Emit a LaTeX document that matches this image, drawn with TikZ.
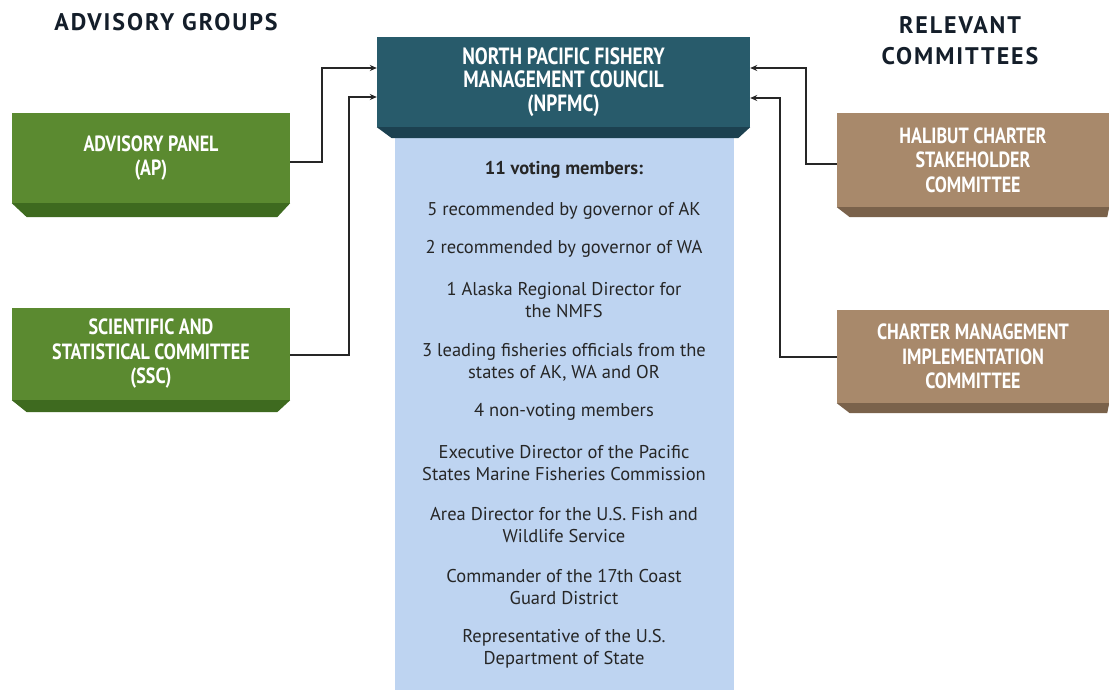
\documentclass[tikz,border=0pt]{standalone}
\usepackage{fontspec}
\setmainfont{PT Sans}
\newfontfamily\condbold[FakeStretch=0.82]{PT Sans Bold}
\newfontfamily\titlefont[LetterSpace=8]{PT Sans Bold}
\usetikzlibrary{calc,arrows.meta}
\definecolor{gface}{HTML}{5B8A30}
\definecolor{gbev}{HTML}{3E6A1F}
\definecolor{tface}{HTML}{285B6B}
\definecolor{tbev}{HTML}{1C4150}
\definecolor{bface}{HTML}{A8896B}
\definecolor{bbev}{HTML}{7A624B}
\definecolor{colblue}{HTML}{BED4F1}
\definecolor{navy}{HTML}{141E2A}
\tikzset{
  x=1pt,y=-1pt,
  face/.style={inner sep=0pt,text=white,align=center,font=\condbold\fontsize{22}{24.5}\selectfont},
  gface/.style={face,fill=gface},
  tface/.style={face,fill=tface},
  bface/.style={face,fill=bface},
  link/.style={draw=black!85,line width=1.3pt,-{Stealth[length=7pt,width=6pt]}},
  coltext/.style={align=center,text=black!85,font=\fontsize{18.5}{22}\selectfont},
  title/.style={text=navy,align=center,font=\titlefont\fontsize{24}{31}\selectfont}
}
\begin{document}
\begin{tikzpicture}
\useasboundingbox (0,0) rectangle (1109,690);
\fill[white] (0,0) rectangle (1109,690);
% blue column
\fill[colblue] (395,130) rectangle (734,690);
% titles
\node[title] (tadv) at (166,22) {ADVISORY GROUPS};
\node[title] (trel) at (960,41) {RELEVANT\\COMMITTEES};
% boxes
\node[tface,minimum width=373pt,minimum height=90pt,font=\condbold\fontsize{23.5}{23.5}\selectfont] (np) at (563.5,82) {NORTH PACIFIC FISHERY\\MANAGEMENT COUNCIL\\(NPFMC)};
\fill[tbev] (np.south west) -- (np.south east) -- ++(-12,11) -- ($(np.south west)+(15,11)$) -- cycle;
\node[gface,minimum width=278pt,minimum height=90pt] (ap) at (151,158) {ADVISORY PANEL\\(AP)};
\fill[gbev] (ap.south west) -- (ap.south east) -- ++(-13,14) -- ($(ap.south west)+(15,14)$) -- cycle;
\node[gface,minimum width=278pt,minimum height=92pt] (ssc) at (151,354) {SCIENTIFIC AND\\STATISTICAL COMMITTEE\\(SSC)};
\fill[gbev] (ssc.south west) -- (ssc.south east) -- ++(-13,12) -- ($(ssc.south west)+(15,12)$) -- cycle;
\node[bface,minimum width=272pt,minimum height=94pt] (hal) at (973,160) {HALIBUT CHARTER\\STAKEHOLDER\\COMMITTEE};
\fill[bbev] (hal.south west) -- (hal.south east) -- ++(-2,10) -- ($(hal.south west)+(13,10)$) -- cycle;
\node[bface,minimum width=272pt,minimum height=93pt] (cmi) at (973,356.5) {CHARTER MANAGEMENT\\IMPLEMENTATION\\COMMITTEE};
\fill[bbev] (cmi.south west) -- (cmi.south east) -- ++(-2,10) -- ($(cmi.south west)+(13,10)$) -- cycle;
% connectors
\coordinate (npl1) at (np.west |- 0,68);
\coordinate (npl2) at (np.west |- 0,97);
\coordinate (npr1) at (np.east |- 0,68);
\coordinate (npr2) at (np.east |- 0,98);
\draw[link] (ap.east |- 0,162) -- (322,162) -- (322,68) -- (npl1);
\draw[link] (ssc.east |- 0,355) -- (349,355) -- (349,97) -- (npl2);
\draw[link] (hal.west |- 0,164) -- (806,164) -- (806,68) -- (npr1);
\draw[link] (cmi.west |- 0,357) -- (780,357) -- (780,98) -- (npr2);
% column text
\node[coltext,font=\bfseries\fontsize{18.5}{22}\selectfont] (vm) at (564,170) {11 voting members:};
\node[coltext] (i1) at (564,211) {5 recommended by governor of AK};
\node[coltext] (i2) at (564,249) {2 recommended by governor of WA};
\node[coltext] (i3) at (564,300) {1 Alaska Regional Director for\\the NMFS};
\node[coltext] (i4) at (564,362) {3 leading fisheries officials from the\\states of AK, WA and OR};
\node[coltext] (nv) at (564,412) {4 non-voting members};
\node[coltext] (i5) at (564,463) {Executive Director of the Pacific\\States Marine Fisheries Commission};
\node[coltext] (i6) at (564,525) {Area Director for the U.S. Fish and\\Wildlife Service};
\node[coltext] (i7) at (564,587) {Commander of the 17th Coast\\Guard District};
\node[coltext] (i8) at (564,649) {Representative of the U.S.\\Department of State};
\end{tikzpicture}
\end{document}
